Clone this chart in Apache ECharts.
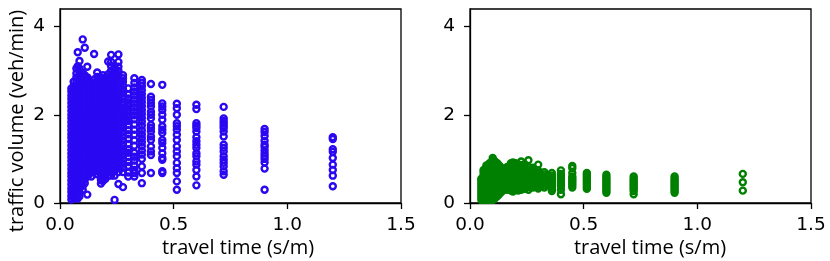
<!DOCTYPE html>
<html><head><meta charset="utf-8">
<script src="https://cdn.jsdelivr.net/npm/echarts@6/dist/echarts.min.js"></script>
<style>html,body{margin:0;padding:0;background:#fff}#c{width:830px;height:261px}</style>
</head><body><div id="c"></div>
<script>
// x columns (travel time, s/m)
const xCols = [0.05, 0.06, 0.072, 0.078, 0.0857, 0.1, 0.109, 0.12, 0.1286, 0.138, 0.15, 0.1636, 0.18, 0.189, 0.2, 0.212, 0.225, 0.24, 0.257, 0.277, 0.3, 0.327, 0.36, 0.4, 0.45, 0.514, 0.6, 0.72, 0.9, 1.2];
// traffic volume (veh/min), left panel (blue), one list per x column
const blueY = [
 [0.08,0.16,0.25,0.33,0.42,0.51,0.6,0.68,0.77,0.86,0.95,1.04,1.12,1.21,1.3,1.39,1.48,1.56,1.65,1.74,1.83,1.92,2.0,2.09,2.18,2.27,2.36,2.44,2.53,2.6],
 [0.1,0.19,0.27,0.36,0.45,0.53,0.62,0.71,0.8,0.88,0.97,1.06,1.15,1.24,1.32,1.41,1.5,1.59,1.68,1.76,1.85,1.94,2.03,2.12,2.2,2.29,2.38,2.47,2.56,2.65,2.75],
 [0.12,0.2,0.29,0.38,0.47,0.55,0.64,0.73,0.82,0.91,0.99,1.08,1.17,1.26,1.35,1.43,1.52,1.61,1.7,1.79,1.88,1.96,2.05,2.14,2.23,2.32,2.41,2.5,2.58,2.67,2.76,2.85,2.94,3.05],
 [0.1,0.6,1.3,2.2,3.1,3.42],
 [0.15,0.24,0.33,0.42,0.5,0.59,0.68,0.77,0.86,0.95,1.03,1.12,1.21,1.3,1.39,1.48,1.56,1.65,1.74,1.83,1.92,2.01,2.09,2.18,2.27,2.36,2.45,2.54,2.62,2.71,2.8,2.89,2.98,3.05,3.22],
 [0.3,0.39,0.48,0.57,0.66,0.75,0.83,0.92,1.01,1.1,1.19,1.28,1.37,1.45,1.54,1.63,1.72,1.81,1.9,1.99,2.07,2.16,2.25,2.34,2.43,2.52,2.61,2.7,2.78,2.87,2.95,3.71],
 [0.45,0.54,0.63,0.72,0.81,0.9,0.98,1.07,1.16,1.25,1.34,1.43,1.51,1.6,1.69,1.78,1.87,1.96,2.05,2.13,2.22,2.31,2.4,2.49,2.58,2.67,2.75,2.84,2.9,3.52],
 [0.19,0.6,0.69,0.78,0.87,0.96,1.04,1.13,1.22,1.31,1.4,1.49,1.57,1.66,1.75,1.84,1.93,2.02,2.11,2.19,2.28,2.37,2.46,2.55,2.64,2.72,2.81,2.85,3.09],
 [0.65,0.74,0.83,0.92,1.0,1.09,1.18,1.27,1.36,1.45,1.53,1.62,1.71,1.8,1.89,1.98,2.06,2.15,2.24,2.33,2.42,2.51,2.6,2.68,2.77],
 [0.6,0.7,0.79,0.88,0.97,1.05,1.14,1.23,1.32,1.41,1.5,1.58,1.67,1.76,1.85,1.94,2.03,2.11,2.2,2.29,2.38,2.47,2.56,2.64,2.73],
 [0.7,0.78,0.87,0.96,1.05,1.13,1.22,1.31,1.4,1.49,1.58,1.66,1.75,1.84,1.93,2.02,2.1,2.19,2.28,2.37,2.46,2.55,2.63,2.72,2.8,3.38],
 [0.65,0.74,0.83,0.91,1.0,1.09,1.18,1.27,1.35,1.44,1.53,1.62,1.71,1.8,1.88,1.97,2.06,2.15,2.24,2.32,2.41,2.5,2.59,2.68,2.77,2.86,2.96],
 [0.44,0.52,0.62,0.71,0.8,0.89,0.97,1.06,1.15,1.24,1.33,1.42,1.5,1.59,1.68,1.77,1.86,1.95,2.03,2.12,2.21,2.3,2.39,2.48,2.56,2.65,2.74,2.85],
 [0.5,0.6,0.69,0.78,0.86,0.95,1.04,1.13,1.22,1.31,1.39,1.48,1.57,1.66,1.75,1.84,1.92,2.01,2.1,2.19,2.28,2.37,2.45,2.54,2.63,2.72,2.81,2.9],
 [0.55,0.64,0.73,0.82,0.91,1.0,1.08,1.17,1.26,1.35,1.44,1.53,1.61,1.7,1.79,1.88,1.97,2.06,2.14,2.23,2.32,2.41,2.5,2.59,2.67,2.76,2.85],
 [0.62,0.71,0.8,0.89,0.98,1.06,1.15,1.24,1.33,1.42,1.51,1.59,1.68,1.77,1.86,1.95,2.04,2.12,2.21,2.3,2.39,2.48,2.57,2.65,2.74,2.83,2.92,3.21],
 [0.62,0.7,0.79,0.88,0.97,1.06,1.15,1.23,1.32,1.41,1.5,1.59,1.68,1.76,1.85,1.94,2.03,2.12,2.21,2.29,2.38,2.47,2.56,2.65,2.74,2.82,2.91,3.0,3.1,3.2,3.36],
 [0.07,0.62,0.72,0.81,0.9,0.99,1.08,1.16,1.25,1.34,1.43,1.52,1.61,1.69,1.78,1.87,1.96,2.05,2.14,2.22,2.31,2.4,2.49,2.58,2.67,2.75,2.84,2.93,3.02,3.11],
 [0.43,0.7,0.79,0.88,0.96,1.05,1.14,1.23,1.32,1.41,1.49,1.58,1.67,1.76,1.85,1.94,2.02,2.11,2.2,2.29,2.38,2.47,2.55,2.64,2.73,2.82,2.91,3.0,3.09,3.2,3.37],
 [0.36,0.7,0.8,0.89,0.98,1.07,1.16,1.24,1.33,1.42,1.51,1.6,1.69,1.77,1.86,1.95,2.04,2.13,2.22,2.3,2.39,2.48,2.57,2.66,2.75,2.83,2.9],
 [0.6,0.69,0.84,0.93,1.05,1.14,1.22,1.34,1.45,1.56,1.65,1.77,1.86,1.95,2.03,2.11,2.2,2.28,2.37,2.46,2.6],
 [0.6,0.68,0.75,0.85,0.96,1.05,1.14,1.3,1.42,1.55,1.66,1.78,1.9,1.99,2.08,2.17,2.26,2.35,2.44,2.53,2.62,2.72,2.83],
 [0.45,0.68,0.83,1.0,1.1,1.19,1.29,1.38,1.47,1.56,1.65,1.75,1.84,1.93,2.02,2.11,2.2,2.29,2.38,2.47,2.56,2.65,2.72,2.79],
 [2.70,2.41,2.34,2.26,2.19,2.07,2.0,1.92,1.77,1.70,1.62,1.51,1.43,1.28,1.17,1.09,0.68],
 [2.68,2.26,2.19,2.11,2.0,1.89,1.74,1.66,1.59,1.43,1.36,1.25,1.13,1.02,0.98,0.72,0.68],
 [2.25,2.15,2.0,1.81,1.74,1.66,1.55,1.43,1.28,1.17,1.06,0.91,0.79,0.68,0.49,0.30],
 [2.23,2.13,1.81,1.75,1.70,1.62,1.49,1.40,1.32,1.25,1.13,1.06,0.94,0.87,0.75,0.60,0.40],
 [2.18,1.92,1.86,1.81,1.75,1.70,1.62,1.51,1.32,1.25,1.17,1.06,0.98,0.91,0.83,0.72,0.64],
 [1.68,1.61,1.52,1.41,1.32,1.27,1.19,1.12,1.06,1.00,0.92,0.78,0.30],
 [1.49,1.45,1.22,1.16,1.02,0.87,0.75,0.62,0.38]
];
// traffic volume (veh/min), right panel (green), one list per x column
const greenY = [
 [0.07,0.12,0.17,0.22,0.27,0.32,0.37,0.42,0.47,0.52,0.55],
 [0.07,0.12,0.17,0.22,0.27,0.32,0.37,0.42,0.47,0.52,0.57,0.62,0.67,0.72,0.75],
 [0.07,0.11,0.16,0.21,0.26,0.31,0.36,0.41,0.46,0.51,0.56,0.61,0.66,0.71,0.76,0.81,0.85],
 [0.08,0.3,0.55,0.83],
 [0.07,0.12,0.17,0.22,0.27,0.32,0.37,0.42,0.47,0.52,0.57,0.62,0.67,0.72,0.77,0.82,0.86,0.9],
 [0.07,0.12,0.17,0.22,0.27,0.32,0.37,0.42,0.47,0.52,0.57,0.62,0.67,0.72,0.77,0.82,0.87,0.92,0.97,1.02],
 [0.1,0.15,0.2,0.25,0.3,0.35,0.4,0.45,0.5,0.55,0.6,0.65,0.7,0.75,0.8,0.85,0.9,0.95],
 [0.15,0.2,0.25,0.3,0.35,0.4,0.45,0.5,0.55,0.6,0.65,0.7,0.75,0.8,0.85,0.9],
 [0.2,0.25,0.3,0.35,0.4,0.45,0.5,0.55,0.6,0.65,0.7,0.75,0.8,0.85],
 [0.25,0.3,0.35,0.4,0.45,0.5,0.55,0.6,0.65,0.7,0.75,0.8],
 [0.3,0.35,0.4,0.45,0.5,0.55,0.6,0.65,0.7,0.74,0.78],
 [0.3,0.35,0.4,0.45,0.5,0.55,0.6,0.65,0.7,0.75,0.79,0.82],
 [0.28,0.33,0.38,0.43,0.48,0.53,0.58,0.63,0.68,0.73,0.78,0.83,0.87,0.9],
 [0.26,0.31,0.36,0.41,0.46,0.51,0.56,0.61,0.66,0.71,0.76,0.81,0.86,0.92],
 [0.3,0.35,0.4,0.45,0.5,0.55,0.6,0.65,0.7,0.75,0.8,0.85,0.9],
 [0.28,0.33,0.38,0.43,0.48,0.53,0.58,0.63,0.68,0.73,0.78,0.83,0.88],
 [0.3,0.35,0.4,0.45,0.5,0.55,0.6,0.65,0.7,0.75,0.8,0.86,0.94],
 [0.32,0.37,0.42,0.47,0.52,0.57,0.62,0.67,0.72,0.77,0.82,0.88],
 [0.3,0.36,0.41,0.46,0.51,0.56,0.61,0.66,0.71,0.76,0.82,0.97],
 [0.35,0.4,0.45,0.5,0.55,0.6,0.65,0.7,0.75,0.8],
 [0.33,0.38,0.43,0.48,0.53,0.58,0.63,0.68,0.74,0.87],
 [0.35,0.4,0.45,0.5,0.55,0.6,0.65,0.7],
 [0.27,0.32,0.37,0.42,0.47,0.52,0.57,0.62,0.68],
 [0.2,0.3,0.38,0.42,0.46,0.5,0.54,0.58,0.62,0.66,0.74],
 [0.35,0.4,0.44,0.48,0.52,0.56,0.6,0.68,0.79,0.84],
 [0.32,0.36,0.4,0.44,0.48,0.52,0.56,0.6,0.64,0.68],
 [0.23,0.27,0.31,0.35,0.39,0.43,0.47,0.51,0.55,0.59,0.64],
 [0.2,0.27,0.31,0.35,0.39,0.43,0.47,0.51,0.55,0.6],
 [0.23,0.27,0.31,0.35,0.39,0.43,0.47,0.51,0.55,0.6],
 [0.28,0.47,0.66]
];
const xTicks = [0, 0.5, 1.0, 1.5];
const yTicks = [0, 2, 4];
const xTitle = 'travel time (s/m)';
const yTitle = 'traffic volume (veh/min)';

function pts(ys) {
  const out = [];
  xCols.forEach((x, i) => ys[i].forEach(y => out.push([x, y])));
  return out;
}

const chart = echarts.init(document.getElementById('c'), null, {renderer: 'canvas'});
const axisCommon = {
  axisLine: {show: true, onZero: false, lineStyle: {color: '#000', width: 1.3}},
  axisTick: {show: true, length: 6, lineStyle: {color: '#000', width: 1.3}},
  splitLine: {show: false}
};
function xAx(gi) {
  return Object.assign({}, axisCommon, {
    type: 'value', gridIndex: gi, min: 0, max: 1.5,
    axisTick: Object.assign({}, axisCommon.axisTick, {customValues: xTicks}),
    axisLabel: {customValues: xTicks, margin: 13, color: '#000', fontFamily: 'DejaVu Sans', fontSize: 18.5,
      formatter: v => v.toFixed(1)}
  });
}
function yAx(gi) {
  return Object.assign({}, axisCommon, {
    type: 'value', gridIndex: gi, min: 0, max: 4.4,
    axisTick: Object.assign({}, axisCommon.axisTick, {customValues: yTicks}),
    axisLabel: {customValues: yTicks, margin: 15, color: '#000', fontFamily: 'DejaVu Sans', fontSize: 18.5,
      formatter: v => String(v)}
  });
}
const sym = (c) => ({
  type: 'scatter', symbol: 'circle', symbolSize: 6,
  itemStyle: {color: 'rgba(0,0,0,0)', borderColor: c, borderWidth: 2.4, opacity: 1},
  emphasis: {disabled: true}, progressive: 0, large: false
});
chart.setOption({
  animation: false,
  backgroundColor: '#fff',
  grid: [
    {left: 60, top: 9, width: 341, height: 194, show: true, borderColor: '#000', borderWidth: 1.3, containLabel: false},
    {left: 470, top: 9, width: 341, height: 194, show: true, borderColor: '#000', borderWidth: 1.3, containLabel: false}
  ],
  xAxis: [xAx(0), xAx(1)],
  yAxis: [yAx(0), yAx(1)],
  series: [
    Object.assign(sym('#2a08f2'), {xAxisIndex: 0, yAxisIndex: 0, data: pts(blueY)}),
    Object.assign(sym('#008000'), {xAxisIndex: 1, yAxisIndex: 1, data: pts(greenY)})
  ],
  graphic: [
    {type: 'text', x: 238, y: 248, style: {text: xTitle, font: '20px "Open Sans"', fill: '#000', align: 'center', verticalAlign: 'middle'}},
    {type: 'text', x: 650, y: 248, style: {text: xTitle, font: '20px "Open Sans"', fill: '#000', align: 'center', verticalAlign: 'middle'}},
    {type: 'text', x: 17, y: 121, rotation: Math.PI / 2, style: {text: yTitle, font: '20px "Open Sans"', fill: '#000', align: 'center', verticalAlign: 'middle'}}
  ]
});
</script>
</body></html>
